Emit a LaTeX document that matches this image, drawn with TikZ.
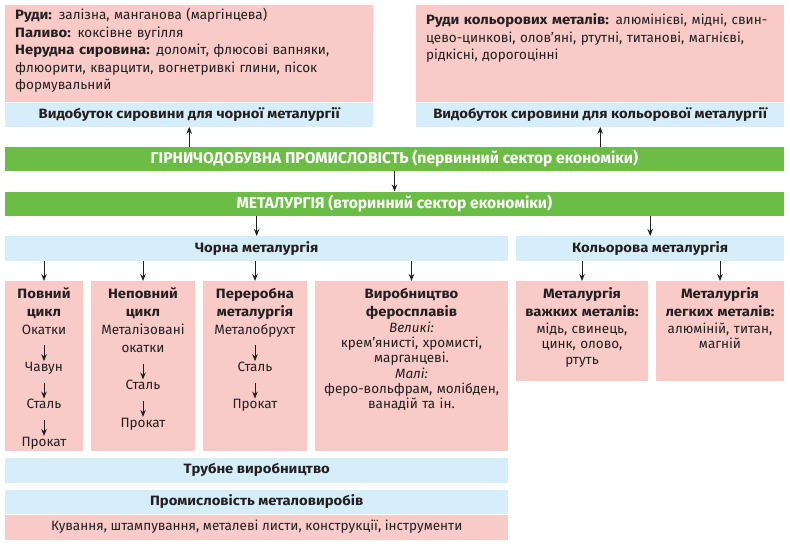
\documentclass[tikz,border=0pt]{standalone}
\usepackage{fontspec}
\setmainfont{Fira Sans}[BoldFeatures={FakeStretch=1.1}]
\newfontfamily\sectorfont{Fira Sans}
\usetikzlibrary{arrows.meta, positioning}

\definecolor{rosefill}{HTML}{F8CAC8}
\definecolor{skyfill}{HTML}{D6EEFA}
\definecolor{leaffill}{HTML}{6CBD45}
\definecolor{inkdark}{HTML}{231F20}

\newcommand{\bodyfont}{\fontsize{13.5}{15.3}\selectfont}
\newcommand{\orefont}{\fontsize{13.5}{17.5}\selectfont}

\tikzstyle{ore}=[fill=rosefill, text=inkdark, anchor=north west, text width=348pt, align=left, inner xsep=10pt, inner ysep=0pt, font=\orefont, text depth=82.4pt]
\tikzstyle{strip}=[fill=skyfill, text=inkdark, inner sep=0pt, minimum height=24pt, font=\bodyfont\bfseries]
\tikzstyle{roseband}=[strip, fill=rosefill, font=\bodyfont]
\tikzstyle{sector}=[fill=leaffill, text=white, inner sep=0pt, minimum width=779pt, minimum height=24.5pt, font=\sectorfont\fontsize{15.6}{17}\selectfont\bfseries]
\tikzstyle{branch}=[fill=rosefill, text=inkdark, anchor=north, align=center, inner xsep=2pt, inner ysep=0pt, font=\bodyfont, text height=17.3pt, text depth=152.7pt]
\tikzstyle{stage}=[text=inkdark, font=\bodyfont, inner sep=0pt, text height=10pt, text depth=3pt, align=center]
\tikzstyle{arrow}=[-{Stealth[length=7pt, width=5.5pt]}, line width=1pt, draw=inkdark]
\tikzstyle{flow}=[arrow, shorten <=8pt]

\begin{document}
\begin{tikzpicture}[x=1pt, y=-1pt, node distance=24pt]
\useasboundingbox (0,0) rectangle (790,547);

% Raw materials
\node[ore, text height=14.6pt] (oreL) at (5,5) {\textbf{Руди:} залізна, манганова (маргінцева)\\
\textbf{Паливо:} коксівне вугілля\\
\textbf{Нерудна сировина:} доломіт, флюсові вапняки,\\
флюорити, кварцити, вогнетривкі глини, пісок\\
формувальний};
\node[ore, text height=19.6pt, text depth=77.4pt] (oreR) at (416,5) {\textbf{Руди кольорових металів:} алюмінієві, мідні, свин-\\
цево-цинкові, олов’яні, ртутні, титанові, магнієві,\\
рідкісні, дорогоцінні};
\node[strip, minimum width=368pt, below=0pt of oreL] (mineL) {Видобуток сировини для чорної металургії};
\node[strip, minimum width=368pt, below=0pt of oreR] (mineR) {Видобуток сировини для кольорової металургії};

% Sectors
\node[sector] (mining) at (394.5,159) {ГІРНИЧОДОБУВНА ПРОМИСЛОВІСТЬ (первинний сектор економіки)};
\node[sector, below=20pt of mining] (metal) {МЕТАЛУРГІЯ (вторинний сектор економіки)};

% Branches
\node[strip, minimum width=503pt, minimum height=25pt, anchor=north west] (ferrous) at (5,236) {Чорна металургія};
\node[strip, minimum width=268pt, minimum height=25pt, anchor=north west] (nonferrous) at (516,236) {Кольорова металургія};

% Ferrous plants
\node[branch, text width=74pt] (full) at (44,281) {\textbf{Повний}\\[3pt]\textbf{цикл}};
\node[branch, text width=100pt] (partial) at (143,281) {\textbf{Неповний}\\[3pt]\textbf{цикл}};
\node[branch, text width=100pt] (recycle) at (255,281) {\textbf{Переробна}\\[3pt]\textbf{металургія}};
\node[branch, text width=189pt] (alloys) at (411.5,281) {\textbf{Виробництво}\\[3pt]\textbf{феросплавів}\\
\textit{Великі:}\\крем’янисті, хромисті,\\марганцеві.\\\textit{Малі:}\\феро-вольфрам, молібден,\\ванадій та ін.};

% Non-ferrous plants
\node[branch, text width=128pt, text depth=82.7pt] (heavy) at (582,281) {\textbf{Металургія}\\[3pt]\textbf{важких металів:}\\[1.5pt]мідь, свинець,\\цинк, олово,\\ртуть};
\node[branch, text width=124pt, text depth=82.7pt] (light) at (720,281) {\textbf{Металургія}\\[3pt]\textbf{легких металів:}\\[1.5pt]алюміній, титан,\\магній};

% Stages inside plants
\node[stage, anchor=base] (pellet1) at ([yshift=-53pt]full.north) {Окатки};
\node[stage, below=of pellet1] (iron1) {Чавун};
\node[stage, below=of iron1] (steel1) {Сталь};
\node[stage, below=of steel1] (rolled1) {Прокат};

\node[stage, anchor=base, text width=100pt, text depth=21.3pt] (pellet2) at ([yshift=-53pt]partial.north) {Металізовані\\[3pt]окатки};
\node[stage, below=of pellet2] (steel2) {Сталь};
\node[stage, below=of steel2] (rolled2) {Прокат};

\node[stage, anchor=base] (scrap3) at ([yshift=-53pt]recycle.north) {Металобрухт};
\node[stage, below=of scrap3] (steel3) {Сталь};
\node[stage, below=of steel3] (rolled3) {Прокат};

% Downstream
\node[strip, minimum width=503pt, minimum height=25pt, anchor=north west] (pipes) at (5,457.5) {Трубне виробництво};
\node[strip, minimum width=503pt, minimum height=24.5pt, below=6.5pt of pipes] (wares) {Промисловість металовиробів};
\node[roseband, minimum width=503pt, minimum height=25pt, below=0pt of wares] (wareslist) {Кування, штампування, металеві листи, конструкції, інструменти};

% Arrows
\draw[arrow] (mining.north -| mineL) -- (mineL);
\draw[arrow] (mining.north -| mineR) -- (mineR);
\draw[arrow] (mining) -- (metal);
\draw[arrow] (metal.south -| ferrous) -- (ferrous);
\draw[arrow] (metal.south -| nonferrous) -- (nonferrous);
\foreach \b in {full, partial, recycle, alloys}
  \draw[arrow] (ferrous.south -| \b) -- (\b);
\foreach \b in {heavy, light}
  \draw[arrow] (nonferrous.south -| \b) -- (\b);

\draw[flow] (pellet1) -- (iron1);
\draw[flow] (iron1) -- (steel1);
\draw[flow] (steel1) -- (rolled1);
\draw[flow] (pellet2) -- (steel2);
\draw[flow] (steel2) -- (rolled2);
\draw[flow] (scrap3) -- (steel3);
\draw[flow] (steel3) -- (rolled3);

\end{tikzpicture}
\end{document}
